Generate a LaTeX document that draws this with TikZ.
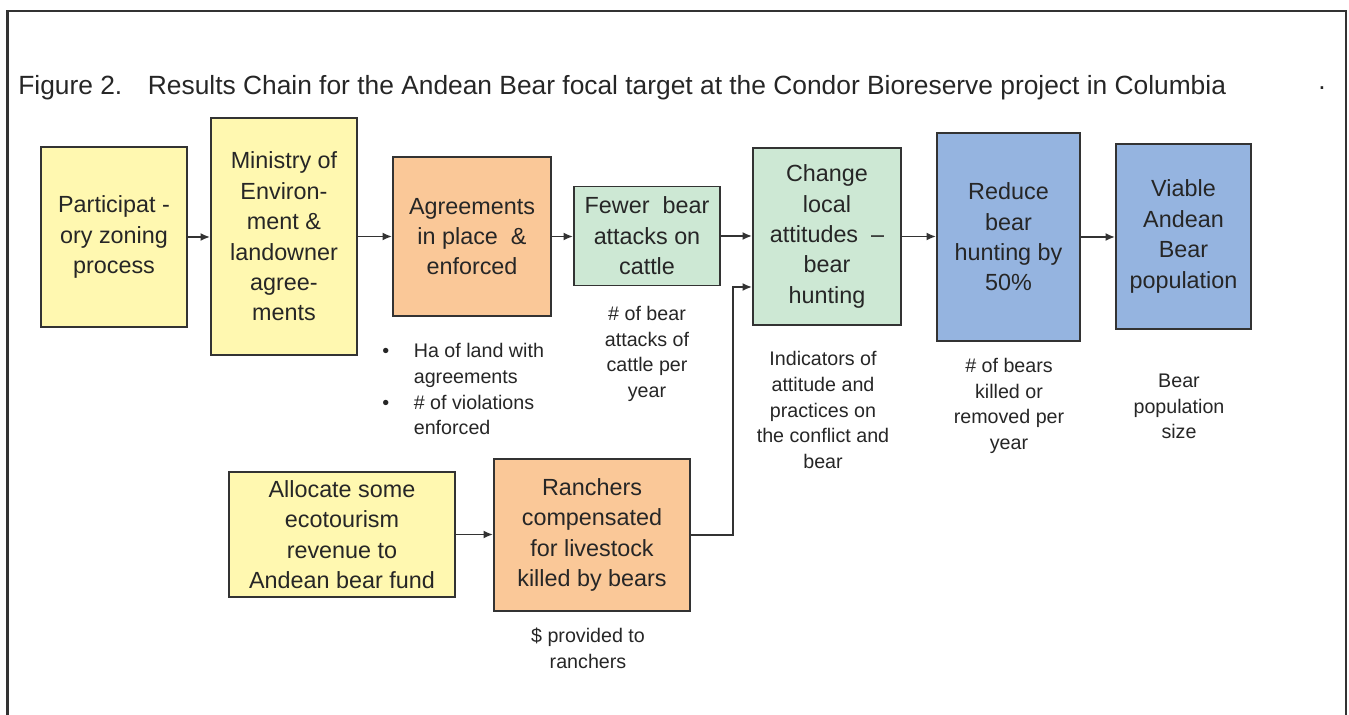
\documentclass[tikz,border=0pt]{standalone}
\usepackage{fontspec}
\setmainfont{Liberation Sans}
\usetikzlibrary{arrows.meta}

\definecolor{boxline}{HTML}{333333}
\definecolor{inktext}{HTML}{262626}
\definecolor{stratyellow}{HTML}{FFF8B0}
\definecolor{resultorange}{HTML}{FAC898}
\definecolor{resultgreen}{HTML}{CDE8D4}
\definecolor{targetblue}{HTML}{95B4E0}

\tikzset{
  chainbox/.style={draw=boxline, line width=1.1pt, align=center, inner sep=0pt,
    text=inktext, font=\fontsize{13.3}{17.3}\selectfont},
  strategy/.style={chainbox, fill=stratyellow},
  objective/.style={chainbox, fill=resultorange},
  result/.style={chainbox, fill=resultgreen},
  target/.style={chainbox, fill=targetblue},
  indicator/.style={align=center, inner sep=0pt, text=inktext,
    font=\fontsize{11.2}{14.7}\selectfont},
  link/.style={draw=boxline, line width=1pt, -{Latex[length=0.19cm, width=0.16cm]}}
}

\begin{document}
\begin{tikzpicture}[x=0.02cm, y=-0.02cm]
\useasboundingbox (0,0) rectangle (1349,715);
% frame (open at the bottom)
\draw[boxline, line width=1.4pt] (7.5,715) -- (7.5,11) -- (1346,11) -- (1346,715);
% title
\node[anchor=west, inner sep=0pt, text=inktext, font=\fontsize{15}{18}\selectfont]
  (title) at (18,88) {Figure 2.\hspace{0.6em} Results Chain for the Andean Bear focal target at the Condor Bioreserve project in Columbia};
\node[inner sep=0pt, text=inktext, font=\fontsize{15}{18}\selectfont] (dot) at (1322,88) {.};
% main chain
\node[strategy, minimum width=2.92cm, minimum height=3.6cm] (zoning) at (114,237)
  {Participat -\\ory zoning\\process};
\node[strategy, minimum width=2.92cm, minimum height=4.74cm] (ministry) at (284,236.5)
  {Ministry of\\Environ-\\ment \&\\landowner\\agree-\\ments};
\node[objective, minimum width=3.16cm, minimum height=3.18cm] (agreements) at (472,236.5)
  {Agreements\\in place \ \&\\enforced};
\node[result, minimum width=2.92cm, minimum height=1.98cm] (attacks) at (647,236)
  {Fewer \ bear\\attacks on\\cattle};
\node[result, minimum width=2.96cm, minimum height=3.54cm] (attitudes) at (827,236.5)
  {Change\\local\\attitudes \ --\\bear\\hunting};
\node[target, minimum width=2.86cm, minimum height=4.16cm] (hunting) at (1008.5,237)
  {Reduce\\bear\\hunting by\\50\%};
\node[target, minimum width=2.7cm, minimum height=3.7cm] (viable) at (1183.5,236.5)
  {Viable\\Andean\\Bear\\population};
% lower chain
\node[strategy, minimum width=4.52cm, minimum height=2.5cm] (ecotourism) at (342,534.5)
  {Allocate some\\ecotourism\\revenue to\\Andean bear fund};
\node[objective, minimum width=3.92cm, minimum height=3.04cm] (compensation) at (592,535)
  {Ranchers\\compensated\\for livestock\\killed by bears};
% indicators
\node[indicator, anchor=west] (indagree) at (382,391)
  {\begin{tabular}{@{}l@{\hspace{1.25em}}l@{}}
   \textbullet & Ha of land with\\ & agreements\\
   \textbullet & \# of violations\\ & enforced
   \end{tabular}};
\node[indicator] (indattacks) at (647,354) {\# of bear\\attacks of\\cattle per\\year};
\node[indicator] (indattitudes) at (823,410) {Indicators of\\attitude and\\practices on\\the conflict and\\bear};
\node[indicator] (indhunting) at (1009,406) {\# of bears\\killed or\\removed per\\year};
\node[indicator] (indviable) at (1179,406.5) {Bear\\population\\size};
\node[indicator] (indcomp) at (588,648) {\$ provided to\\ranchers};
% links
\draw[link] (zoning.east) -- (zoning.east -| ministry.west);
\draw[link] (ministry.east) -- (ministry.east -| agreements.west);
\draw[link] (agreements.east) -- (agreements.east -| attacks.west);
\draw[link] (attacks.east) -- (attacks.east -| attitudes.west);
\draw[link] (attitudes.east) -- (attitudes.east -| hunting.west);
\draw[link] (hunting.east) -- (hunting.east -| viable.west);
\draw[link] (ecotourism.east) -- (ecotourism.east -| compensation.west);
\coordinate (elbow) at (733,287);
\draw[link] (compensation.east) -| (elbow) -- (elbow -| attitudes.west);
\end{tikzpicture}
\end{document}
